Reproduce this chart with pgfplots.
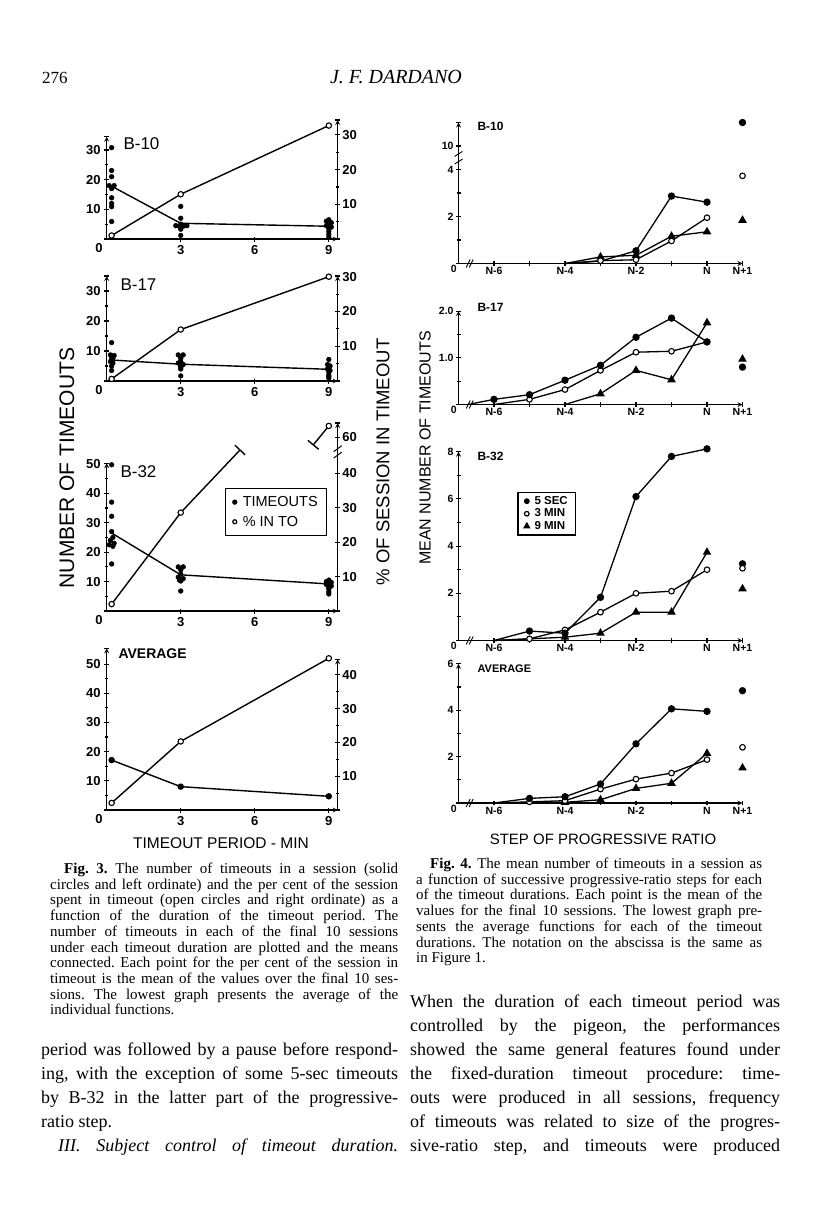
\documentclass[border=0pt]{standalone}
\usepackage{pgfplots}
\pgfplotsset{compat=1.18}
\usepackage{fontspec}
\setmainfont{Liberation Serif}
\newfontfamily\lett{Liberation Sans}
\frenchspacing

% one line of justified text, baseline at (x,y) in page pixels
\newcommand\jl[4]{\node[anchor=base west,inner sep=0pt] at (#1pt,-#2pt) {\makebox[#3pt][s]{#4}};}
\newcommand\pl[3]{\node[anchor=base west,inner sep=0pt] at (#1pt,-#2pt) {#3};}

\tikzset{
  org3/.style={anchor=north east, inner sep=4pt, font=\lett\bfseries\fontsize{13}{13}\selectfont},
  org4/.style={anchor=north east, inner sep=1.5pt, font=\lett\bfseries\fontsize{10.5}{11}\selectfont},
}

\pgfplotsset{
  base/.style={scale only axis, anchor=south west, clip=false,
    axis line style={-, line width=1.2pt},
    every tick/.style={black, line width=1.1pt},
    tick align=inside, major tick length=5pt, minor tick length=3.5pt,
    /pgf/number format/assume math mode=true,
    extra y tick labels={}},
  f3l/.style={base, width=231pt, xmin=0, xmax=9.36, ymin=0,
    axis x line=bottom, axis y line=left,
    xtick={3,6,9}, xticklabels={3,6,9}, minor y tick num=1,
    tick label style={font=\lett\bfseries\fontsize{13}{13}\selectfont}},
  f3r/.style={base, width=231pt, xmin=0, xmax=9.36, ymin=0,
    hide x axis, axis y line=right, minor y tick num=1,
    tick label style={font=\lett\bfseries\fontsize{13}{13}\selectfont},
    yticklabel style={inner sep=2pt}},
  f3dot/.style={only marks, mark=*, mark size=2.4pt, black, forget plot},
  f3mean/.style={black, line width=1.4pt, no markers, forget plot},
  f3avg/.style={black, line width=1.4pt, mark=*, mark size=2.5pt, forget plot},
  f3open/.style={black, line width=1.4pt, mark=*, mark size=2.7pt,
    mark options={fill=white, line width=1.1pt}, forget plot},
  f4/.style={base, width=284pt, xmin=0, xmax=8, ymin=0,
    axis x line=bottom, axis y line=left,
    xtick={1,...,8}, xticklabels={N-6,,N-4,,N-2,,N,N+1},
    major tick length=4.5pt, minor tick length=4pt,
    tick label style={font=\lett\bfseries\fontsize{10.5}{11}\selectfont},
    xticklabel style={inner sep=1.5pt}, yticklabel style={inner sep=2.5pt}},
  f4f/.style={black, line width=1.3pt, mark=*, mark size=3pt, forget plot},
  f4o/.style={black, line width=1.3pt, mark=*, mark size=2.8pt,
    mark options={fill=white, line width=1.1pt}, forget plot},
  f4t/.style={black, line width=1.3pt, mark=triangle*, mark size=3.7pt, forget plot},
}

\begin{document}
\begin{tikzpicture}
\fill[white] (0pt,0pt) rectangle (816pt,-1207pt);
\path[use as bounding box] (0pt,0pt) rectangle (816pt,-1207pt);

% ---------------- page header
\node[anchor=base west, inner sep=0pt, font=\fontsize{17}{17}\selectfont] at (42pt,-84pt) {276};
\node[anchor=base, inner sep=0pt, font=\itshape\fontsize{20}{20}\selectfont] at (396pt,-84pt) {J. F. DARDANO};

% ================= Fig. 3 =================
% B-10
\begin{axis}[f3l, at={(106.7pt,-239pt)}, height=102.3pt, ymax=34.5,
  ytick={0,10,20,30}, yticklabels={,10,20,30}, extra y ticks={34.5}]
\addplot[f3dot] coordinates {(0.2,30.8)(0.2,23.1)(0.2,21)(0.1,18)(0.3,18)(0.2,17)
  (0.2,13.9)(0.2,12)(0.2,10.9)(0.2,5.9)
  (3,11)(3,7)(2.8,4.5)(2.95,4.3)(3.1,4.3)(3.25,4.5)(3,4.0)(3,3.3)(3,1.2)(3,5)
  (9,6.5)(8.9,6)(9.1,5.5)(9,5)(8.9,4.5)(9.1,4)(9,3.5)(9,2.5)(9,1.5)(9,0.5)};
\addplot[f3mean] coordinates {(0.2,17.8)(3,5.3)(9,4.3)};
\node[org3] at (axis cs:0,0) {0};
\end{axis}
\begin{axis}[f3r, at={(106.7pt,-239pt)}, height=119pt, ymax=34.3,
  ytick={0,10,20,30}, yticklabels={,10,20,30}, extra y ticks={34.3}]
\addplot[f3open] coordinates {(0.2,1.0)(3,12.9)(9,32.7)};
\end{axis}

% B-17
\begin{axis}[f3l, at={(106.7pt,-381pt)}, height=105pt, ymax=35,
  ytick={0,10,20,30}, yticklabels={,10,20,30}, extra y ticks={35}]
\addplot[f3dot] coordinates {(0.2,12.8)(0.15,8.7)(0.3,8.5)(0.2,8)(0.25,7.5)(0.2,7)
  (0.15,6.5)(0.25,6)(0.2,5)(0.2,3.5)
  (2.9,8.7)(3.1,8.7)(3,7.5)(3,6.5)(2.9,6)(3.1,5.5)(3,5)(3,4.5)(3,4)(3,1.7)
  (9,7.2)(8.95,5.5)(9.05,5)(9,4.5)(8.95,4)(9.05,3.5)(9,3)(9,2)(9,1.5)(9,1)};
\addplot[f3mean] coordinates {(0.2,7.0)(3,5.6)(9,3.9)};
\node[org3] at (axis cs:0,0) {0};
\end{axis}
\begin{axis}[f3r, at={(106.7pt,-381pt)}, height=105pt, ymax=30.2,
  ytick={0,10,20,30}, yticklabels={,10,20,30}, extra y ticks={30.2}]
\addplot[f3open] coordinates {(0.2,0.6)(3,14.8)(9,30)};
\end{axis}

% B-32
\begin{axis}[f3l, at={(106.7pt,-611pt)}, height=147.7pt, ymax=50.2,
  ytick={0,10,20,30,40,50}, yticklabels={,10,20,30,40,50},
  legend style={at={(axis cs:4.8,41.9)}, anchor=north west, draw=black,
    line width=1.2pt, font=\lett\fontsize{14.5}{16}\selectfont,
    inner xsep=7pt, inner ysep=6pt, row sep=4pt, cells={anchor=west}}]
\addplot[f3dot] coordinates {(0.2,49.7)(0.2,37)(0.2,32.2)(0.2,27)(0.25,25)(0.15,24)
  (0.3,23)(0.1,22.5)(0.25,22)(0.2,16)
  (2.9,15)(3.1,15)(3,14)(3,12.5)(2.9,11.5)(3.1,11)(3,10.5)(2.95,10.5)(3,10.2)(3,6.8)
  (9,10.5)(8.9,10)(9.1,9.7)(9,9.5)(8.9,9)(9.1,8.5)(9,8)(9,7.5)(9,6.5)(9,5.8)};
\addplot[f3mean] coordinates {(0.2,26.5)(3,12.3)(9,9.2)};
\addlegendimage{only marks, mark=*, mark size=2pt, black}
\addlegendentry{\hspace{4pt}TIMEOUTS}
\addlegendimage{only marks, mark=*, mark size=2pt, black, mark options={fill=white}}
\addlegendentry{\hspace{4pt}\% IN TO}
\node[org3] at (axis cs:0,0) {0};
\end{axis}
\begin{axis}[f3r, at={(106.7pt,-611pt)}, height=188pt, ymax=54.65,
  ytick={0,10,20,30,40,50.5}, yticklabels={,10,20,30,40,60}, extra y ticks={54.65}]
\addplot[f3mean] coordinates {(3,28.6)(5.4,46.8)};
\addplot[f3mean] coordinates {(5.194,48.2)(5.606,45.4)};
\addplot[f3mean] coordinates {(8.151,49.59)(8.589,47.01)};
\addplot[f3mean] coordinates {(8.37,48.3)(9,53.8)};
\addplot[f3open] coordinates {(0.2,2.0)(3,28.6)};
\addplot[f3open] coordinates {(9,53.8)};
\draw[line width=1pt] ([xshift=-4pt,yshift=-5pt]axis cs:9.36,45.9) -- ([xshift=4pt,yshift=1pt]axis cs:9.36,45.9);
\draw[line width=1pt] ([xshift=-4pt,yshift=-2pt]axis cs:9.36,46.9) -- ([xshift=4pt,yshift=4pt]axis cs:9.36,46.9);
\end{axis}

% AVERAGE
\begin{axis}[f3l, at={(106.7pt,-810pt)}, height=161.7pt, ymax=55.4,
  ytick={0,10,20,30,40,50}, yticklabels={,10,20,30,40,50}, extra y ticks={55.4}]
\addplot[f3avg] coordinates {(0.2,17.1)(3,8.0)(9,4.7)};
\node[org3] at (axis cs:0,0) {0};
\end{axis}
\begin{axis}[f3r, at={(106.7pt,-810pt)}, height=150.7pt, ymax=44.6,
  ytick={0,10,20,30,40}, yticklabels={,10,20,30,40}, extra y ticks={44.6}]
\addplot[f3open] coordinates {(0.2,2.1)(3,20.3)(9,44.9)};
\end{axis}

% Fig. 3 lettering
\node[anchor=west, font=\lett\fontsize{17}{17}\selectfont] at (120pt,-144pt) {B-10};
\node[anchor=west, font=\lett\fontsize{17}{17}\selectfont] at (117pt,-285pt) {B-17};
\node[anchor=west, font=\lett\fontsize{17}{17}\selectfont] at (117pt,-472pt) {B-32};
\node[anchor=west, font=\lett\bfseries\fontsize{14}{14}\selectfont] at (115pt,-654pt) {AVERAGE};
\node[rotate=90, font=\lett\fontsize{21}{21}\selectfont] at (67pt,-468pt) {NUMBER OF TIMEOUTS};
\node[rotate=90, font=\lett\fontsize{18.5}{19}\selectfont] at (383pt,-462pt) {\% OF SESSION IN TIMEOUT};
\node[font=\lett\fontsize{15.5}{16}\selectfont] at (221pt,-843pt) {TIMEOUT PERIOD - MIN};

% ================= Fig. 4 =================
% B-10
\begin{axis}[f4, at={(458.5pt,-263.5pt)}, height=141pt, ymax=6,
  ytick={0,2,4,5}, yticklabels={,2,4,10}, minor ytick={1,3}, extra y ticks={6}]
\addplot[f4t, mark phase=2] coordinates {(3,0)(4,0.28)(5,0.35)(6,1.16)(7,1.35)};
\addplot[f4o, mark phase=2] coordinates {(3,0)(4,0.12)(5,0.16)(6,0.96)(7,1.95)};
\addplot[f4f, mark phase=3] coordinates {(3,0)(4,0.1)(5,0.54)(6,2.87)(7,2.61)};
\addplot[f4f, only marks] coordinates {(8,6.0)};
\addplot[f4o, only marks] coordinates {(8,3.73)};
\addplot[f4t, only marks] coordinates {(8,1.84)};
\draw[line width=0.9pt] ([xshift=-4pt,yshift=-4pt]axis cs:0,4.4) -- ([xshift=4pt,yshift=1pt]axis cs:0,4.4);
\draw[line width=0.9pt] ([xshift=-4pt,yshift=-1pt]axis cs:0,4.6) -- ([xshift=4pt,yshift=4pt]axis cs:0,4.6);
\draw[line width=0.9pt] ([xshift=-3pt,yshift=-4pt]axis cs:0.3,0) -- ([xshift=1pt,yshift=4pt]axis cs:0.3,0);
\draw[line width=0.9pt] ([xshift=0pt,yshift=-4pt]axis cs:0.3,0) -- ([xshift=4pt,yshift=4pt]axis cs:0.3,0);
\node[org4] at (axis cs:0,0) {0};
\end{axis}

% B-17
\begin{axis}[f4, at={(458.5pt,-404.5pt)}, height=93.4pt, ymax=2,
  ytick={0,1,2}, yticklabels={,1.0,2.0}, minor ytick={0.5,1.5}]
\addplot[f4t, mark phase=2] coordinates {(3,0)(4,0.23)(5,0.73)(6,0.53)(7,1.75)};
\addplot[f4o, mark phase=2] coordinates {(1,0)(2,0.11)(3,0.32)(4,0.73)(5,1.12)(6,1.14)(7,1.34)};
\addplot[f4f, mark phase=2] coordinates {(0.27,0)(1,0.11)(2,0.21)(3,0.52)(4,0.84)(5,1.44)(6,1.85)(7,1.34)};
\addplot[f4t, only marks] coordinates {(8,0.97)};
\addplot[f4f, only marks] coordinates {(8,0.8)};
\draw[line width=0.9pt] ([xshift=-3pt,yshift=-4pt]axis cs:0.3,0) -- ([xshift=1pt,yshift=4pt]axis cs:0.3,0);
\draw[line width=0.9pt] ([xshift=0pt,yshift=-4pt]axis cs:0.3,0) -- ([xshift=4pt,yshift=4pt]axis cs:0.3,0);
\node[org4] at (axis cs:0,0) {0};
\end{axis}

% B-32
\begin{axis}[f4, at={(458.5pt,-640.5pt)}, height=188.8pt, ymax=8,
  ytick={0,2,4,6,8}, yticklabels={,2,4,6,8}, minor ytick={1,3,5,7},
  legend style={at={(axis cs:1.66,6.3)}, anchor=north west, draw=black,
    line width=1.2pt, font=\lett\bfseries\fontsize{11.5}{12}\selectfont,
    inner xsep=6pt, inner ysep=2pt, row sep=-1pt, cells={anchor=west}}]
\addplot[f4t, mark phase=2] coordinates {(1,0)(3,0.14)(4,0.31)(5,1.2)(6,1.2)(7,3.74)};
\addplot[f4o, mark phase=2] coordinates {(1,0)(2,0.07)(3,0.45)(4,1.2)(5,2.0)(6,2.09)(7,3.0)};
\addplot[f4f, mark phase=2] coordinates {(1,0)(2,0.4)(3,0.31)(4,1.83)(5,6.1)(6,7.8)(7,8.12)};
\addplot[f4f, only marks] coordinates {(8,3.25)};
\addplot[f4o, only marks] coordinates {(8,3.06)};
\addplot[f4t, only marks] coordinates {(8,2.19)};
\addlegendimage{only marks, mark=*, mark size=2.3pt, black}
\addlegendentry{\hspace{3pt}5 SEC}
\addlegendimage{only marks, mark=*, mark size=2.3pt, black, mark options={fill=white}}
\addlegendentry{\hspace{3pt}3 MIN}
\addlegendimage{only marks, mark=triangle*, mark size=3.2pt, black}
\addlegendentry{\hspace{3pt}9 MIN}
\draw[line width=0.9pt] ([xshift=-3pt,yshift=-4pt]axis cs:0.3,0) -- ([xshift=1pt,yshift=4pt]axis cs:0.3,0);
\draw[line width=0.9pt] ([xshift=0pt,yshift=-4pt]axis cs:0.3,0) -- ([xshift=4pt,yshift=4pt]axis cs:0.3,0);
\node[org4] at (axis cs:0,0) {0};
\end{axis}

% AVERAGE
\begin{axis}[f4, at={(458.5pt,-803pt)}, height=139.2pt, ymax=6,
  ytick={0,2,4,6}, yticklabels={,2,4,6}, minor ytick={1,3,5}]
\addplot[f4t, mark phase=3] coordinates {(1,0)(2,0.02)(3,0.03)(4,0.14)(5,0.63)(6,0.85)(7,2.14)};
\addplot[f4o, mark phase=2] coordinates {(1,0)(2,0.05)(3,0.1)(4,0.6)(5,1.03)(6,1.29)(7,1.87)};
\addplot[f4f, mark phase=2] coordinates {(1,0)(2,0.2)(3,0.27)(4,0.82)(5,2.55)(6,4.06)(7,3.95)};
\addplot[f4f, only marks] coordinates {(8,4.84)};
\addplot[f4o, only marks] coordinates {(8,2.4)};
\addplot[f4t, only marks] coordinates {(8,1.51)};
\draw[line width=0.9pt] ([xshift=-3pt,yshift=-4pt]axis cs:0.3,0) -- ([xshift=1pt,yshift=4pt]axis cs:0.3,0);
\draw[line width=0.9pt] ([xshift=0pt,yshift=-4pt]axis cs:0.3,0) -- ([xshift=4pt,yshift=4pt]axis cs:0.3,0);
\node[org4] at (axis cs:0,0) {0};
\end{axis}

% Fig. 4 lettering
\node[anchor=west, font=\lett\bfseries\fontsize{12}{12}\selectfont] at (474pt,-126pt) {B-10};
\node[anchor=west, font=\lett\bfseries\fontsize{12}{12}\selectfont] at (474pt,-307pt) {B-17};
\node[anchor=west, font=\lett\bfseries\fontsize{12}{12}\selectfont] at (474pt,-456pt) {B-32};
\node[anchor=west, font=\lett\bfseries\fontsize{11}{11}\selectfont] at (474pt,-669pt) {AVERAGE};
\node[rotate=90, font=\lett\fontsize{16}{16}\selectfont] at (425pt,-448pt) {MEAN NUMBER OF TIMEOUTS};
\node[font=\lett\fontsize{15}{15}\selectfont] at (603pt,-839pt) {STEP OF PROGRESSIVE RATIO};

% ================= captions =================
\begin{scope}[font=\fontsize{15}{16}\selectfont]
\jl{64}{873.5}{334}{\textbf{Fig. 3.} The number of timeouts in a session (solid}
\jl{50}{889.2}{348}{circles and left ordinate) and the per cent of the session}
\jl{50}{904.9}{348}{spent in timeout (open circles and right ordinate) as a}
\jl{50}{920.6}{348}{function of the duration of the timeout period. The}
\jl{50}{936.3}{348}{number of timeouts in each of the final 10 sessions}
\jl{50}{952.0}{348}{under each timeout duration are plotted and the means}
\jl{50}{967.7}{348}{connected. Each point for the per cent of the session in}
\jl{50}{983.4}{348}{timeout is the mean of the values over the final 10 ses-}
\jl{50}{999.1}{348}{sions. The lowest graph presents the average of the}
\pl{50}{1014.8}{individual functions.}

\jl{430}{868.5}{332}{\textbf{Fig. 4.} The mean number of timeouts in a session as}
\jl{416}{884.2}{346}{a function of successive progressive-ratio steps for each}
\jl{416}{899.9}{346}{of the timeout durations. Each point is the mean of the}
\jl{416}{915.6}{346}{values for the final 10 sessions. The lowest graph pre-}
\jl{416}{931.3}{346}{sents the average functions for each of the timeout}
\jl{416}{947.0}{346}{durations. The notation on the abscissa is the same as}
\pl{416}{962.7}{in Figure 1.}
\end{scope}

% ================= body text =================
\begin{scope}[font=\fontsize{18}{24}\selectfont]
\jl{41}{1055}{357}{period was followed by a pause before respond-}
\jl{41}{1079}{357}{ing, with the exception of some 5-sec timeouts}
\jl{41}{1103}{357}{by B-32 in the latter part of the progressive-}
\pl{41}{1127}{ratio step.}
\jl{58}{1151}{340}{\itshape III. Subject control of timeout duration.}

\jl{410}{1007}{370}{When the duration of each timeout period was}
\jl{410}{1031}{370}{controlled by the pigeon, the performances}
\jl{410}{1055}{370}{showed the same general features found under}
\jl{410}{1079}{370}{the fixed-duration timeout procedure: time-}
\jl{410}{1103}{370}{outs were produced in all sessions, frequency}
\jl{410}{1127}{370}{of timeouts was related to size of the progres-}
\jl{410}{1151}{370}{sive-ratio step, and timeouts were produced}
\end{scope}
\end{tikzpicture}
\end{document}
